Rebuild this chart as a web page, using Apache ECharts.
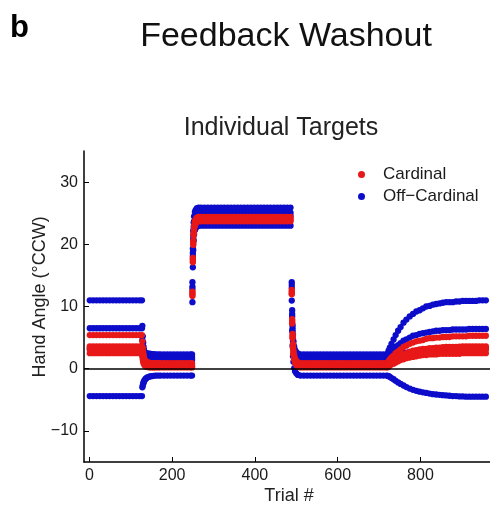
<!DOCTYPE html>
<html><head><meta charset="utf-8">
<script src="https://cdn.jsdelivr.net/npm/echarts@6/dist/echarts.min.js"></script>
<style>html,body{margin:0;padding:0;background:#fff}#c{width:490px;height:510px}</style>
</head><body><div id="c"></div>
<script>
// Trial numbers at which points are plotted (baseline | washout 1 | rise + plateau | fall + washout 2 | late)
const trials = [
1,9,17,25,33,41,49,57,65,73,81,89,97,105,113,121,127,
128,129,130,131,132,134,136,139,142,146,150,155,160,166,172,180,188,196,204,212,220,228,236,244,248,
249,250,251,252,253,255,257,260,264,270,278,286,294,302,310,318,326,334,342,350,358,366,374,382,390,398,406,414,422,430,438,446,454,462,470,478,486,
489,490,491,492,493,495,497,500,504,510,518,526,534,542,550,558,566,574,582,590,598,606,614,622,630,638,646,654,662,670,678,686,694,702,710,718,
721,723,726,730,735,740,746,752,759,766,774,782,790,798,806,814,822,830,838,846,854,862,870,878,886,894,902,910,918,926,934,942,950,958
];

// Off-cardinal targets (blue)
const offCard1 = [
11,11,11,11,11,11,11,11,11,11,11,11,11,11,11,11,11,
4.6,3.6,3.1,2.8,2.7,2.6,2.5,2.45,2.4,2.4,2.35,2.35,2.3,2.3,2.3,2.3,2.3,2.3,2.3,2.3,2.3,2.3,2.3,2.3,2.3,
13.9,19.3,22.1,23.5,24.5,25.2,25.55,25.8,25.9,
25.9,25.9,25.9,25.9,25.9,25.9,25.9,25.9,25.9,25.9,25.9,25.9,25.9,25.9,25.9,25.9,25.9,25.9,25.9,25.9,25.9,25.9,25.9,25.9,25.9,25.9,25.9,25.9,
13.9,9.4,7.0,5.4,4.4,3.5,3.0,2.65,2.4,2.3,
2.3,2.3,2.3,2.3,2.3,2.3,2.3,2.3,2.3,2.3,2.3,2.3,2.3,2.3,2.3,2.3,2.3,2.3,2.3,2.3,2.3,2.3,2.3,2.3,2.3,2.3,
2.5,2.9,3.4,4.0,4.7,5.4,6.1,6.7,7.4,7.9,8.4,8.8,9.2,9.4,9.7,10.0,10.1,10.3,10.4,10.5,10.6,10.7,10.7,10.7,10.8,10.8,10.9,10.9,10.9,10.9,10.9,11.0,11.0,11.0
];
const offCard2 = [
6.5,6.5,6.5,6.5,6.5,6.5,6.5,6.5,6.5,6.5,6.5,6.5,6.5,6.5,6.5,6.5,6.5,
6.9,5.2,4.2,3.5,3.0,2.6,2.3,2.1,2.0,1.95,1.9,1.9,1.85,1.8,1.8,1.8,1.8,1.8,1.8,1.8,1.8,1.8,1.8,1.8,1.8,
13.2,18.6,21.4,22.8,23.7,24.4,24.75,25.0,25.1,
25.1,25.1,25.1,25.1,25.1,25.1,25.1,25.1,25.1,25.1,25.1,25.1,25.1,25.1,25.1,25.1,25.1,25.1,25.1,25.1,25.1,25.1,25.1,25.1,25.1,25.1,25.1,25.1,
13.45,8.8,6.5,4.8,3.9,3.0,2.5,2.15,1.9,1.8,
1.8,1.8,1.8,1.8,1.8,1.8,1.8,1.8,1.8,1.8,1.8,1.8,1.8,1.8,1.8,1.8,1.8,1.8,1.8,1.8,1.8,1.8,1.8,1.8,1.8,1.8,
1.9,2.1,2.4,2.7,3.1,3.5,3.8,4.1,4.5,4.7,5.0,5.3,5.4,5.6,5.7,5.8,5.9,6.0,6.1,6.1,6.2,6.2,6.2,6.3,6.3,6.3,6.3,6.3,6.4,6.4,6.4,6.4,6.4,6.4
];
const offCard3 = [
3.3,3.3,3.3,3.3,3.3,3.3,3.3,3.3,3.3,3.3,3.3,3.3,3.3,3.3,3.3,3.3,3.3,
3.0,2.6,2.3,2.1,1.9,1.75,1.65,1.55,1.5,1.45,1.45,1.4,1.4,1.4,1.4,1.4,1.4,1.4,1.4,1.4,1.4,1.4,1.4,1.4,1.4,
12.8,18.1,20.9,22.3,23.2,23.9,24.25,24.5,24.6,
24.6,24.6,24.6,24.6,24.6,24.6,24.6,24.6,24.6,24.6,24.6,24.6,24.6,24.6,24.6,24.6,24.6,24.6,24.6,24.6,24.6,24.6,24.6,24.6,24.6,24.6,24.6,24.6,
13.0,8.4,6.0,4.4,3.5,2.6,2.1,1.75,1.5,1.4,
1.4,1.4,1.4,1.4,1.4,1.4,1.4,1.4,1.4,1.4,1.4,1.4,1.4,1.4,1.4,1.4,1.4,1.4,1.4,1.4,1.4,1.4,1.4,1.4,1.4,1.4,
1.4,1.5,1.6,1.8,1.9,2.1,2.2,2.4,2.5,2.6,2.7,2.8,2.9,3.0,3.0,3.1,3.1,3.1,3.2,3.2,3.2,3.2,3.3,3.3,3.3,3.3,3.3,3.3,3.3,3.3,3.3,3.3,3.3,3.3
];
const offCard4 = [
-4.4,-4.4,-4.4,-4.4,-4.4,-4.4,-4.4,-4.4,-4.4,-4.4,-4.4,-4.4,-4.4,-4.4,-4.4,-4.4,-4.4,
-3.0,-2.7,-2.4,-2.2,-2.0,-1.8,-1.6,-1.45,-1.35,-1.25,-1.2,-1.15,-1.1,-1.1,-1.1,-1.1,-1.1,-1.1,-1.1,-1.1,-1.1,-1.1,-1.1,-1.1,-1.1,
10.7,16.3,19.1,20.6,21.6,22.3,22.6,22.9,23.0,
23.0,23.0,23.0,23.0,23.0,23.0,23.0,23.0,23.0,23.0,23.0,23.0,23.0,23.0,23.0,23.0,23.0,23.0,23.0,23.0,23.0,23.0,23.0,23.0,23.0,23.0,23.0,23.0,
10.95,6.1,3.7,2.0,1.1,0.1,-0.4,-0.75,-1.0,-1.1,
-1.1,-1.1,-1.1,-1.1,-1.1,-1.1,-1.1,-1.1,-1.1,-1.1,-1.1,-1.1,-1.1,-1.1,-1.1,-1.1,-1.1,-1.1,-1.1,-1.1,-1.1,-1.1,-1.1,-1.1,-1.1,-1.1,
-1.15,-1.2,-1.3,-1.5,-1.7,-1.95,-2.2,-2.45,-2.7,-2.95,-3.2,-3.4,-3.55,-3.7,-3.8,-3.9,-4.0,-4.1,-4.15,-4.2,-4.25,-4.3,-4.35,-4.4,-4.4,-4.45,-4.45,-4.5,-4.5,-4.5,-4.5,-4.5,-4.5,-4.5
];

// Cardinal targets (red)
const card1 = [
5.4,5.4,5.4,5.4,5.4,5.4,5.4,5.4,5.4,5.4,5.4,5.4,5.4,5.4,5.4,5.4,5.4,
4.4,3.4,2.7,2.2,1.8,1.4,1.2,1.05,1.0,0.95,0.9,0.9,0.9,0.9,0.9,0.9,0.9,0.9,0.9,0.9,0.9,0.9,0.9,0.9,0.9,
12.4,17.8,20.6,22.0,23.0,23.7,24.05,24.3,24.4,
24.4,24.4,24.4,24.4,24.4,24.4,24.4,24.4,24.4,24.4,24.4,24.4,24.4,24.4,24.4,24.4,24.4,24.4,24.4,24.4,24.4,24.4,24.4,24.4,24.4,24.4,24.4,24.4,
12.65,7.95,5.6,4.0,3.0,2.1,1.6,1.25,1.0,0.9,
0.9,0.9,0.9,0.9,0.9,0.9,0.9,0.9,0.9,0.9,0.9,0.9,0.9,0.9,0.9,0.9,0.9,0.9,0.9,0.9,0.9,0.9,0.9,0.9,0.9,0.9,
1.0,1.2,1.5,1.8,2.1,2.5,2.8,3.1,3.5,3.7,4.0,4.2,4.4,4.5,4.6,4.8,4.9,4.9,5.0,5.0,5.1,5.1,5.1,5.2,5.2,5.2,5.2,5.2,5.3,5.3,5.3,5.3,5.3,5.3
];
const card2 = [
3.6,3.6,3.6,3.6,3.6,3.6,3.6,3.6,3.6,3.6,3.6,3.6,3.6,3.6,3.6,3.6,3.6,
3.0,2.35,1.9,1.55,1.25,1.0,0.85,0.75,0.7,0.65,0.6,0.6,0.6,0.6,0.6,0.6,0.6,0.6,0.6,0.6,0.6,0.6,0.6,0.6,0.6,
12.2,17.6,20.4,21.8,22.8,23.5,23.85,24.1,24.2,
24.2,24.2,24.2,24.2,24.2,24.2,24.2,24.2,24.2,24.2,24.2,24.2,24.2,24.2,24.2,24.2,24.2,24.2,24.2,24.2,24.2,24.2,24.2,24.2,24.2,24.2,24.2,24.2,
12.4,7.7,5.3,3.7,2.7,1.8,1.3,0.95,0.7,0.6,
0.6,0.6,0.6,0.6,0.6,0.6,0.6,0.6,0.6,0.6,0.6,0.6,0.6,0.6,0.6,0.6,0.6,0.6,0.6,0.6,0.6,0.6,0.6,0.6,0.6,0.6,
0.7,0.8,1.0,1.2,1.4,1.7,1.9,2.1,2.3,2.5,2.7,2.9,3.0,3.1,3.2,3.2,3.3,3.3,3.4,3.4,3.45,3.5,3.5,3.5,3.5,3.55,3.6,3.6,3.6,3.6,3.6,3.6,3.6,3.6
];
const card3 = [
3.1,3.1,3.1,3.1,3.1,3.1,3.1,3.1,3.1,3.1,3.1,3.1,3.1,3.1,3.1,3.1,3.1,
2.5,1.9,1.5,1.2,0.95,0.75,0.6,0.5,0.45,0.42,0.4,0.4,0.4,0.4,0.4,0.4,0.4,0.4,0.4,0.4,0.4,0.4,0.4,0.4,0.4,
11.9,17.3,20.1,21.6,22.5,23.2,23.55,23.8,23.9,
23.9,23.9,23.9,23.9,23.9,23.9,23.9,23.9,23.9,23.9,23.9,23.9,23.9,23.9,23.9,23.9,23.9,23.9,23.9,23.9,23.9,23.9,23.9,23.9,23.9,23.9,23.9,23.9,
12.15,7.45,5.1,3.45,2.5,1.6,1.1,0.75,0.5,0.4,
0.4,0.4,0.4,0.4,0.4,0.4,0.4,0.4,0.4,0.4,0.4,0.4,0.4,0.4,0.4,0.4,0.4,0.4,0.4,0.4,0.4,0.4,0.4,0.4,0.4,0.4,
0.5,0.6,0.7,0.9,1.2,1.4,1.6,1.8,2.0,2.1,2.3,2.4,2.5,2.6,2.7,2.8,2.8,2.9,2.9,2.9,3.0,3.0,3.0,3.0,3.0,3.0,3.1,3.1,3.1,3.1,3.1,3.1,3.1,3.1
];
const card4 = [
2.5,2.5,2.5,2.5,2.5,2.5,2.5,2.5,2.5,2.5,2.5,2.5,2.5,2.5,2.5,2.5,2.5,
2.0,1.5,1.15,0.9,0.7,0.5,0.4,0.3,0.25,0.22,0.2,0.2,0.2,0.2,0.2,0.2,0.2,0.2,0.2,0.2,0.2,0.2,0.2,0.2,0.2,
11.7,17.1,19.9,21.4,22.3,23.0,23.35,23.6,23.7,
23.7,23.7,23.7,23.7,23.7,23.7,23.7,23.7,23.7,23.7,23.7,23.7,23.7,23.7,23.7,23.7,23.7,23.7,23.7,23.7,23.7,23.7,23.7,23.7,23.7,23.7,23.7,23.7,
11.95,7.25,4.9,3.25,2.3,1.4,0.9,0.55,0.3,0.2,
0.2,0.2,0.2,0.2,0.2,0.2,0.2,0.2,0.2,0.2,0.2,0.2,0.2,0.2,0.2,0.2,0.2,0.2,0.2,0.2,0.2,0.2,0.2,0.2,0.2,0.2,
0.25,0.35,0.5,0.7,0.8,1.0,1.2,1.4,1.5,1.7,1.8,1.9,2.0,2.1,2.2,2.2,2.3,2.3,2.3,2.4,2.4,2.4,2.4,2.4,2.4,2.4,2.5,2.5,2.5,2.5,2.5,2.5,2.5,2.5
];

const xTickValues = [0, 200, 400, 600, 800];
const yTickValues = [-10, 0, 10, 20, 30];
const seriesNames = ['Cardinal', 'Off\u2212Cardinal'];

const toPts = arr => {
  if (arr.length !== trials.length) console.warn('length mismatch', arr.length, trials.length);
  return trials.map((t, i) => [t, arr[i]]);
};
const cardData = [card1, card2, card3, card4].flatMap(toPts);
const offData = [offCard1, offCard2, offCard3, offCard4].flatMap(toPts);

const FONT = '"Liberation Sans", Arial, Helvetica, sans-serif';
const RED = '#e81818';
const BLUE = '#0c0cca';
const minus = v => (v < 0 ? '\u2212' + Math.abs(v) : String(v));

const chart = echarts.init(document.getElementById('c'), null, { renderer: 'canvas' });
chart.setOption({
  animation: false,
  backgroundColor: '#fff',
  grid: { left: 84, right: 0, top: 151, bottom: 48, containLabel: false },
  xAxis: {
    type: 'value', min: -13, max: 968,
    axisLine: { show: true, onZero: false, lineStyle: { color: '#000', width: 1.5 } },
    axisTick: { show: true, inside: true, length: 5, customValues: xTickValues, lineStyle: { color: '#000', width: 1 } },
    axisLabel: { show: true, customValues: xTickValues, margin: 6, color: '#1a1a1a', fontSize: 16, fontFamily: FONT },
    splitLine: { show: false }
  },
  yAxis: {
    type: 'value', min: -15, max: 35,
    axisLine: { show: true, onZero: false, lineStyle: { color: '#000', width: 1.5 } },
    axisTick: { show: true, inside: true, length: 5, customValues: yTickValues, lineStyle: { color: '#000', width: 1 } },
    axisLabel: { show: true, customValues: yTickValues, margin: 6, color: '#1a1a1a', fontSize: 16, fontFamily: FONT, formatter: minus },
    splitLine: { show: false }
  },
  legend: {
    show: true, orient: 'vertical', left: 353, top: 161,
    data: seriesNames, icon: 'circle', itemWidth: 7, itemHeight: 7, itemGap: 5,
    selectedMode: false,
    textStyle: { color: '#1a1a1a', fontSize: 17, fontFamily: FONT, padding: [0, 0, 0, 13], lineHeight: 17 }
  },
  series: [
    {
      name: seriesNames[1], type: 'scatter', data: offData, symbol: 'circle', symbolSize: 6.3,
      itemStyle: { color: BLUE, opacity: 1 }, silent: true
    },
    {
      name: seriesNames[0], type: 'scatter', data: cardData, symbol: 'circle', symbolSize: 6.3,
      itemStyle: { color: RED, opacity: 1 }, silent: true,
      markLine: {
        silent: true, symbol: ['none', 'none'], label: { show: false },
        lineStyle: { color: '#000', width: 1.5, type: 'solid' },
        data: [{ yAxis: 0 }]
      }
    }
  ],
  graphic: [
    { type: 'text', x: 10, y: 28, style: { text: 'b', font: 'bold 31px ' + FONT, fill: '#000', textAlign: 'left', textVerticalAlign: 'middle' } },
    { type: 'text', x: 286, y: 37, style: { text: 'Feedback Washout', font: '34px ' + FONT, fill: '#111', textAlign: 'center', textVerticalAlign: 'middle' } },
    { type: 'text', x: 281, y: 128, style: { text: 'Individual Targets', font: '25px ' + FONT, fill: '#222', textAlign: 'center', textVerticalAlign: 'middle' } },
    { type: 'text', x: 40, y: 297, rotation: Math.PI / 2, style: { text: 'Hand Angle (\u00b0CCW)', font: '18px ' + FONT, fill: '#222', textAlign: 'center', textVerticalAlign: 'middle' } },
    { type: 'text', x: 289, y: 496, style: { text: 'Trial #', font: '18px ' + FONT, fill: '#222', textAlign: 'center', textVerticalAlign: 'middle' } }
  ]
});
</script>
</body></html>
